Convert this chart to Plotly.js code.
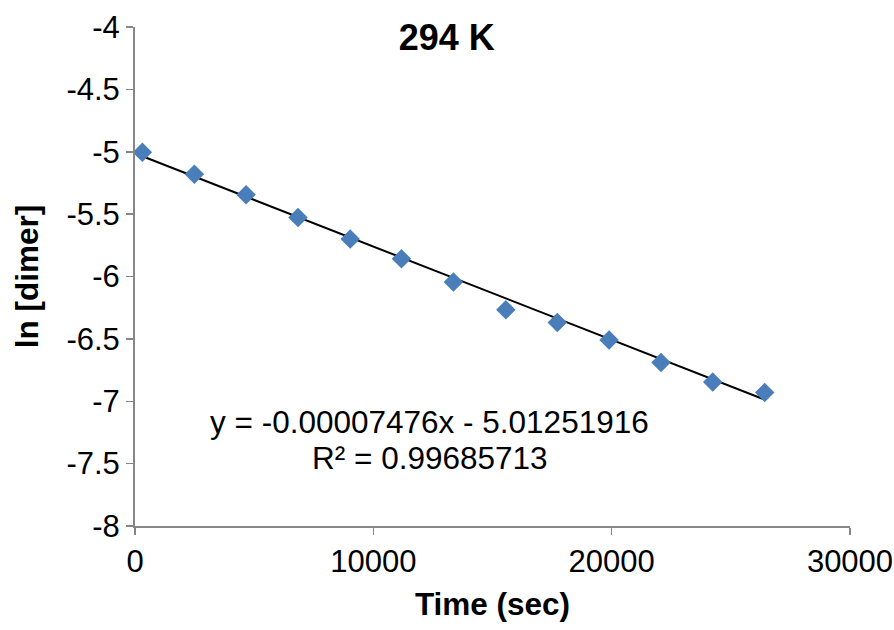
<!DOCTYPE html>
<html>
<head>
<meta charset="utf-8">
<script src="https://cdn.plot.ly/plotly-3.0.1.min.js"></script>
<style>html,body{margin:0;padding:0;background:#fff;}#chart{width:894px;height:630px;}</style>
</head>
<body>
<div id="chart"></div>
<script>
// Data
var timeSec = [310, 2490, 4660, 6840, 9030, 11180, 13360, 15560, 17720, 19890, 22070, 24240, 26420];
var lnDimer = [-5.005, -5.18, -5.345, -5.527, -5.70, -5.858, -6.045, -6.267, -6.369, -6.51, -6.69, -6.846, -6.93];
var fitSlope = -0.00007476;
var fitIntercept = -5.01251916;
var fitR2 = 0.99685713;
var xTicks = [0, 10000, 20000, 30000];
var yTicks = [-4, -4.5, -5, -5.5, -6, -6.5, -7, -7.5, -8];

var fitX = [timeSec[0], timeSec[timeSec.length - 1]];
var fitY = fitX.map(function (x) { return fitSlope * x + fitIntercept; });

var font = "'Liberation Sans', Arial, sans-serif";
var axisGrey = '#868686';

var traces = [
  {
    x: fitX, y: fitY, type: 'scatter', mode: 'lines',
    line: {color: '#000000', width: 2}, hoverinfo: 'skip', showlegend: false
  },
  {
    x: timeSec, y: lnDimer, type: 'scatter', mode: 'markers',
    marker: {symbol: 'diamond', size: 15, color: '#4A7EBB', line: {width: 0}},
    showlegend: false
  }
];

var layout = {
  width: 894, height: 630,
  margin: {l: 135, r: 44, t: 27, b: 104, pad: 0},
  paper_bgcolor: '#ffffff', plot_bgcolor: '#ffffff',
  font: {family: font, color: '#000000', size: 31},
  showlegend: false,
  title: {
    text: '<b>294 K</b>', font: {family: font, size: 36, color: '#000'},
    xref: 'paper', x: 0.436, xanchor: 'center',
    yref: 'container', y: 0.94, yanchor: 'middle'
  },
  xaxis: {
    range: [0, 30000], tickvals: xTicks, ticktext: xTicks.map(String),
    showgrid: false, zeroline: false, showline: true, linecolor: axisGrey, linewidth: 2,
    ticks: 'outside', ticklen: 7, tickwidth: 1.5, tickcolor: axisGrey,
    tickfont: {family: font, size: 31, color: '#000'},
    title: {text: '<b>Time (sec)</b>', font: {family: font, size: 31.5, color: '#000'}, standoff: 15}
  },
  yaxis: {
    range: [-8, -4], tickvals: yTicks, ticktext: yTicks.map(String),
    showgrid: false, zeroline: false, showline: true, linecolor: axisGrey, linewidth: 2,
    ticks: 'outside', ticklen: 7, tickwidth: 1.5, tickcolor: axisGrey,
    tickfont: {family: font, size: 31, color: '#000'},
    title: {text: '<b>ln [dimer]</b>', font: {family: font, size: 31.5, color: '#000'}, standoff: 18}
  },
  annotations: [
    {
      x: 12365, y: -7.165, xref: 'x', yref: 'y', showarrow: false,
      text: 'y = ' + fitSlope.toFixed(8) + 'x - ' + Math.abs(fitIntercept).toFixed(8),
      font: {family: font, size: 31.5, color: '#000'}, xanchor: 'center', yanchor: 'middle'
    },
    {
      x: 12365, y: -7.454, xref: 'x', yref: 'y', showarrow: false,
      text: 'R² = ' + fitR2.toFixed(8),
      font: {family: font, size: 31.5, color: '#000'}, xanchor: 'center', yanchor: 'middle'
    }
  ]
};

Plotly.newPlot('chart', traces, layout, {displayModeBar: false, staticPlot: true});
</script>
</body>
</html>
